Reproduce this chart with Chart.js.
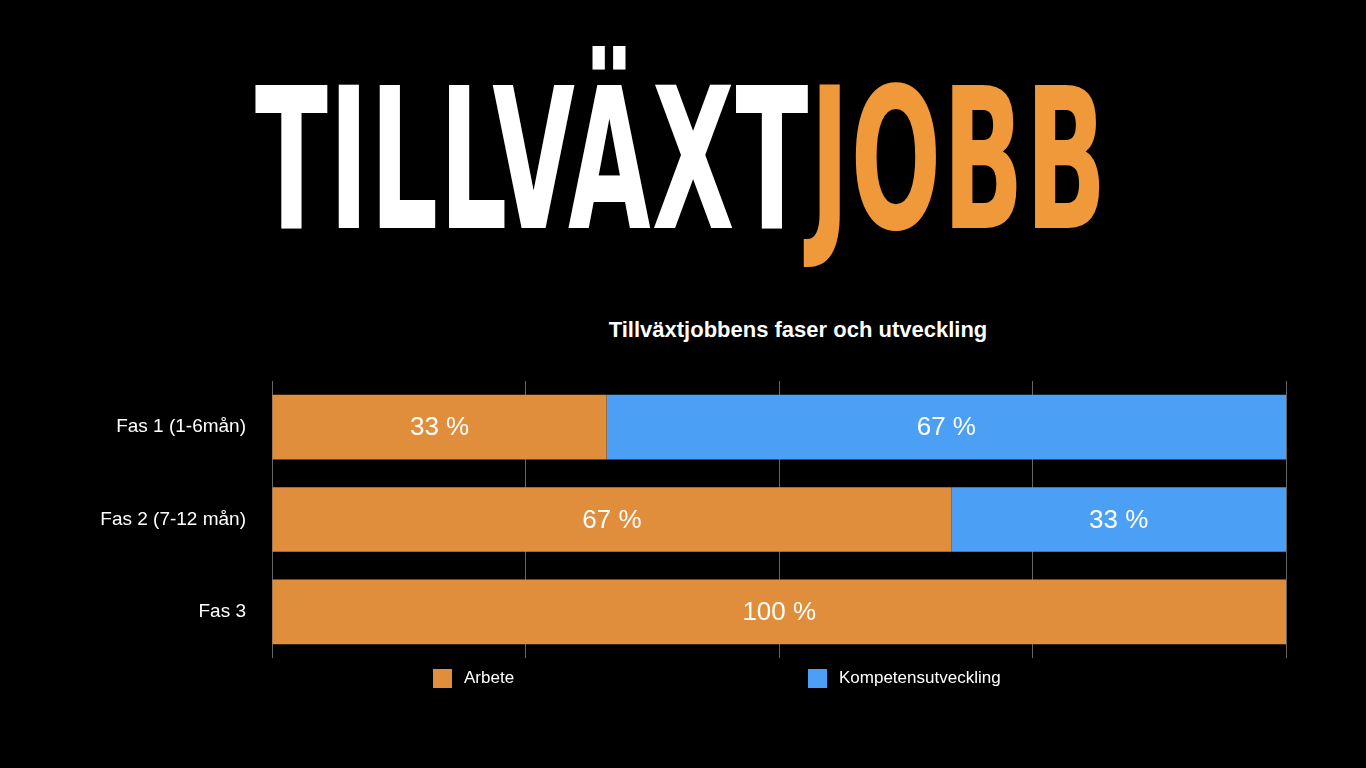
<!DOCTYPE html>
<html><head><meta charset="utf-8">
<script src="https://cdn.jsdelivr.net/npm/chart.js@4"></script>
<style>
html,body{margin:0;padding:0;background:#000;width:1366px;height:768px;overflow:hidden;font-family:"Liberation Sans",Arial,sans-serif}
#big{position:absolute;left:255px;top:62px;font-family:"DejaVu Sans Condensed","DejaVu Sans";font-weight:bold;font-size:196px;line-height:196px;white-space:nowrap;transform-origin:0 0;letter-spacing:2px}
#ctitle{position:absolute;left:0;width:1596px;top:317px;text-align:center;color:#fff;font-weight:bold;font-size:22px}
#c{position:absolute;left:0;top:0}
.leg{position:absolute;top:668px;color:#fff;font-size:17px;display:flex;align-items:center}
.leg span.b{display:inline-block;width:19px;height:19px;margin-right:12px}
</style></head><body>
<div id="big"><span style="color:#fff">TILLVÄXT</span><span style="color:#F0993A">JOBB</span></div>
<div id="ctitle">Tillväxtjobbens faser och utveckling</div>
<canvas id="c" width="1366" height="768"></canvas>
<div class="leg" style="left:433px"><span class="b" style="background:#E08E3C"></span>Arbete</div>
<div class="leg" style="left:808px"><span class="b" style="background:#4BA0F5"></span>Kompetensutveckling</div>
<script>
const categories=["Fas 1 (1-6mån)","Fas 2 (7-12 mån)","Fas 3"];
const arbete=[33,67,100];
const kompetens=[67,33,0];
const seriesNames=["Arbete","Kompetensutveckling"];
const big=document.getElementById('big');
big.style.transform='scaleX('+(853/big.offsetWidth)+')';
const labels={id:'lab',afterDatasetsDraw(ch){const ctx=ch.ctx;ctx.save();ctx.fillStyle='#fff';ctx.font='26px "Liberation Sans", Arial';ctx.textAlign='center';ctx.textBaseline='middle';
ch.data.datasets.forEach((ds,i)=>{ch.getDatasetMeta(i).data.forEach((b,j)=>{if(!ds.data[j])return;const x=(b.x+b.base)/2;ctx.fillText(ds.data[j]+' %',x,b.y+1);});});ctx.restore();}};
new Chart(document.getElementById('c'),{type:'bar',data:{labels:categories,datasets:[
{label:seriesNames[0],data:arbete,backgroundColor:'#E08E3C',barPercentage:0.7,categoryPercentage:1},
{label:seriesNames[1],data:kompetens,backgroundColor:'#4BA0F5',barPercentage:0.7,categoryPercentage:1}]},
options:{indexAxis:'y',responsive:false,animation:false,layout:{padding:{top:381,bottom:110,right:80,left:0}},
plugins:{legend:{display:false},title:{display:false},tooltip:{enabled:false}},
scales:{x:{stacked:true,min:0,max:100,ticks:{display:false,stepSize:25},grid:{color:'#666',drawTicks:false,lineWidth:1},border:{display:false}},
y:{stacked:true,grid:{display:false},border:{display:false},ticks:{color:'#fff',font:{size:19,family:'"Liberation Sans", Arial'},padding:18},afterFit(s){s.width=272;}}}},
plugins:[labels]});
</script></body></html>
